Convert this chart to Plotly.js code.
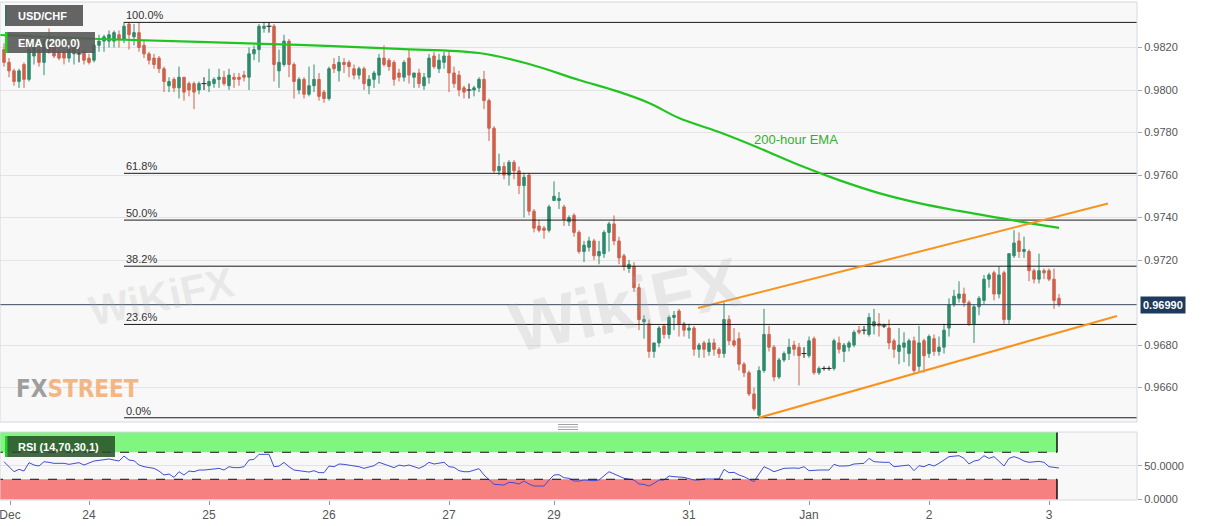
<!DOCTYPE html>
<html><head><meta charset="utf-8">
<script src="https://cdn.plot.ly/plotly-3.0.1.min.js"></script>
<style>html,body{margin:0;padding:0;background:#fff}#chart{width:1207px;height:526px}</style>
</head><body><div id="chart"></div>
<script>
// Hourly USD/CHF candles (index 0 = first candle on the left)
const opens = [
.9819,.9813,.9809,.9804,.9812,.9805,.9816,.9819,.9813,.9824,.9820,.9818,.9818,.9815,.9817,.9817,.9818,.9815,.9814,.9821,
.9823,.9823,.9823,.9826,.9824,.9831,.9825,.9827,.9821,.9817,.9815,.9815,.9810,.9802,.9805,.9801,.9806,.9803,.9803,.9800,
.9803,.9802,.9803,.9805,.9806,.9802,.9806,.9806,.9807,.9806,.9817,.9819,.9829,.9830,.9830,.9809,.9812,.9823,.9812,.9800,
.9805,.9798,.9802,.9805,.9799,.9796,.9812,.9809,.9813,.9813,.9810,.9807,.9810,.9802,.9805,.9807,.9815,.9814,.9813,.9808,
.9806,.9815,.9806,.9808,.9802,.9806,.9816,.9810,.9813,.9816,.9808,.9807,.9801,.9800,.9800,.9801,.9805,.9795,.9782,.9762,
.9764,.9760,.9766,.9762,.9755,.9760,.9743,.9736,.9735,.9734,.9748,.9748,.9745,.9738,.9741,.9733,.9724,.9726,.9729,.9722,
.9723,.9733,.9737,.9729,.9722,.9716,.9717,.9707,.9691,.9690,.9677,.9681,.9689,.9685,.9693,.9696,.9690,.9687,.9688,.9678,
.9681,.9677,.9681,.9678,.9676,.9692,.9682,.9683,.9671,.9667,.9657,.9647,.9668,.9685,.9679,.9665,.9673,.9676,.9680,.9679,
.9676,.9675,.9683,.9667,.9669,.9669,.9669,.9681,.9677,.9679,.9680,.9687,.9687,.9685,.9689,.9690,.9689,.9688,.9682,.9677,
.9679,.9676,.9682,.9670,.9682,.9676,.9683,.9677,.9679,.9688,.9699,.9702,.9704,.9700,.9690,.9698,.9701,.9711,.9714,.9704,
.9714,.9692,.9722,.9729,.9724,.9724,.9715,.9711,.9715,.9715,.9711,.9702];
const highs = [
.9822,.9815,.9810,.9810,.9813,.9820,.9822,.9821,.9824,.9829,.9821,.9820,.9820,.9822,.9823,.9820,.9819,.9817,.9822,.9826,
.9826,.9828,.9828,.9828,.9832,.9832,.9831,.9832,.9823,.9818,.9817,.9816,.9811,.9806,.9806,.9811,.9806,.9804,.9804,.9804,
.9806,.9810,.9806,.9810,.9809,.9810,.9808,.9808,.9809,.9820,.9821,.9831,.9832,.9832,.9831,.9819,.9826,.9824,.9813,.9806,
.9806,.9811,.9812,.9808,.9800,.9811,.9815,.9816,.9815,.9814,.9812,.9811,.9811,.9807,.9809,.9817,.9821,.9815,.9814,.9810,
.9814,.9819,.9808,.9810,.9808,.9817,.9818,.9817,.9818,.9818,.9811,.9809,.9802,.9803,.9802,.9806,.9809,.9796,.9783,.9770,
.9766,.9767,.9767,.9764,.9761,.9761,.9744,.9739,.9736,.9746,.9757,.9752,.9746,.9741,.9742,.9734,.9729,.9731,.9730,.9729,
.9734,.9738,.9741,.9731,.9723,.9720,.9719,.9709,.9694,.9692,.9681,.9689,.9690,.9694,.9696,.9697,.9691,.9690,.9689,.9681,
.9682,.9683,.9683,.9679,.9700,.9694,.9688,.9686,.9672,.9668,.9660,.9670,.9697,.9689,.9680,.9674,.9677,.9683,.9682,.9681,
.9679,.9684,.9684,.9670,.9670,.9670,.9683,.9684,.9681,.9682,.9687,.9689,.9689,.9695,.9697,.9695,.9690,.9692,.9683,.9688,
.9686,.9683,.9684,.9689,.9683,.9685,.9685,.9684,.9690,.9702,.9706,.9710,.9707,.9701,.9699,.9703,.9713,.9714,.9715,.9717,
.9715,.9723,.9734,.9733,.9731,.9725,.9716,.9723,.9716,.9716,.9716,.9704];
const lows = [
.9811,.9806,.9802,.9801,.9801,.9804,.9812,.9811,.9807,.9817,.9815,.9814,.9812,.9813,.9812,.9813,.9812,.9812,.9813,.9818,
.9818,.9820,.9820,.9820,.9822,.9819,.9821,.9818,.9815,.9812,.9810,.9808,.9799,.9799,.9799,.9796,.9795,.9797,.9791,.9798,
.9800,.9799,.9801,.9801,.9802,.9800,.9801,.9802,.9804,.9800,.9814,.9813,.9827,.9827,.9804,.9801,.9811,.9806,.9796,.9798,
.9796,.9797,.9799,.9795,.9794,.9795,.9808,.9804,.9808,.9806,.9805,.9805,.9800,.9798,.9801,.9803,.9811,.9809,.9802,.9804,
.9804,.9803,.9801,.9801,.9800,.9803,.9810,.9808,.9810,.9799,.9801,.9797,.9796,.9796,.9797,.9799,.9791,.9776,.9761,.9760,
.9758,.9755,.9758,.9751,.9740,.9741,.9733,.9733,.9730,.9733,.9748,.9744,.9736,.9736,.9731,.9723,.9719,.9724,.9720,.9718,
.9721,.9724,.9727,.9718,.9715,.9714,.9705,.9687,.9683,.9674,.9674,.9679,.9683,.9683,.9687,.9684,.9684,.9683,.9675,.9674,
.9674,.9675,.9675,.9674,.9674,.9680,.9679,.9668,.9665,.9656,.9649,.96458,.9667,.9677,.9663,.9664,.9672,.9673,.9675,.9661,
.9674,.9674,.9666,.9666,.9668,.9668,.9668,.9676,.9672,.9677,.9679,.9685,.9685,.9684,.9685,.9684,.9688,.9678,.9674,.9671,
.9672,.9670,.9667,.9667,.9667,.9674,.9675,.9675,.9676,.9684,.9698,.9700,.9698,.9689,.9681,.9694,.9699,.9707,.9701,.9702,
.9690,.9690,.9721,.9721,.9721,.9710,.9709,.9709,.9711,.9710,.9697,.9698];
const closes = [
.9813,.9809,.9804,.9809,.9805,.9819,.9820,.9813,.9823,.9818,.9816,.9815,.9815,.9820,.9821,.9817,.9814,.9813,.9821,.9823,
.9825,.9826,.9827,.9824,.9830,.9826,.9827,.9820,.9817,.9814,.9812,.9810,.9804,.9804,.9801,.9806,.9799,.9800,.9799,.9803,
.9803,.9804,.9805,.9806,.9803,.9807,.9805,.9805,.9806,.9817,.9819,.9830,.9830,.9830,.9812,.9813,.9823,.9812,.9804,.9805,
.9798,.9802,.9805,.9797,.9796,.9810,.9810,.9813,.9812,.9811,.9807,.9810,.9803,.9805,.9808,.9815,.9812,.9811,.9805,.9806,
.9813,.9807,.9808,.9803,.9806,.9815,.9811,.9814,.9816,.9808,.9803,.9800,.9799,.9800,.9801,.9805,.9795,.9782,.9762,.9764,
.9760,.9766,.9762,.9755,.9759,.9743,.9735,.9734,.9734,.9745,.9750,.9749,.9739,.9740,.9733,.9724,.9727,.9729,.9722,.9724,
.9733,.9737,.9729,.9721,.9717,.9718,.9707,.9692,.9692,.9677,.9681,.9688,.9685,.9693,.9694,.9690,.9687,.9688,.9678,.9680,
.9678,.9681,.9678,.9676,.9692,.9682,.9680,.9671,.9667,.9657,.9650,.9668,.9685,.9679,.9665,.9673,.9676,.9679,.9678,.9675,
.9676,.9682,.9667,.9669,.9669,.9669,.9682,.9678,.9680,.9681,.9686,.9686,.9687,.9693,.9691,.9689,.9689,.9681,.9678,.9680,
.9681,.9682,.9668,.9681,.9675,.9684,.9677,.9679,.9687,.9699,.9703,.9704,.9700,.9690,.9698,.9702,.9711,.9713,.9704,.9713,
.9692,.9723,.9728,.9724,.9725,.9715,.9711,.9715,.9714,.9711,.9701,.9699];

// x-axis day labels (candle index where each day starts)
const tickIdx = [1.2, 17, 41, 65, 89, 110, 137, 161, 185, 209];
const tickLabels = ['Dec', '24', '25', '26', '27', '29', '31', 'Jan', '2', '3'];

// 200-hour EMA
const emaIdx  = [-1, 19, 39, 59, 79, 95, 105, 115, 123, 129, 135, 143, 151, 159, 167, 175, 183, 191, 199, 205, 211];
const emaVals = [.98259,.98240,.98226,.98212,.98193,.98174,.98122,.98047,.97991,.97939,.97868,.97802,.97727,.97647,.97576,.97515,.97468,.97431,.97398,.97374,.97351];

// RSI (14)
const rsiIdx = [0,1,2,3,4,5,6,7,8,9,10,12,13,15,16,18,20,21,22,23,24,25,26,27,28,30,31,32,33,34,35,36,37,38,39,40,42,43,44,45,46,47,48,49,50,51,53,54,55,56,57,58,59,60,61,62,63,64,65,66,67,68,70,71,72,73,74,75,76,78,79,80,81,82,83,84,85,86,87,88,89,90,91,92,93,95,96,98,100,101,102,103,104,105,106,108,109,110,111,112,113,114,115,116,118,119,121,122,123,124,126,127,128,129,130,131,132,133,134,136,138,139,140,142,143,144,145,146,147,148,149,150,151,152,153,154,155,156,158,159,160,161,163,165,166,167,168,169,170,171,172,173,174,176,177,178,179,181,182,183,184,185,186,187,189,191,192,193,194,195,196,197,198,200,201,202,203,204,205,207,208,209,211];
const rsiVals = [56.0,48.6,41.2,44.7,42.2,54.6,51.1,49.6,56.0,55.1,53.6,53.6,52.1,54.6,51.1,57.0,58.5,60.0,58.5,57.0,64.4,58.5,57.5,51.1,48.6,46.2,42.2,36.3,37.8,32.8,41.2,36.3,42.2,41.2,43.7,43.7,45.2,46.2,43.7,48.6,47.2,47.2,48.6,58.5,59.5,66.9,66.9,48.6,49.5,55.0,48.6,43.7,42.7,42.2,40.7,42.7,39.8,39.8,49.6,48.6,52.6,52.1,50.1,48.6,46.2,48.6,50.1,55.1,52.6,47.2,51.0,49.6,51.1,48.6,46.2,49.6,55.1,52.6,53.6,55.1,48.6,47.7,42.7,41.2,41.2,45.7,36.3,22.5,21.5,25.4,24.9,23.0,27.4,23.0,20.0,20.0,28.9,36.3,36.8,32.3,31.4,27.4,27.4,28.9,27.9,28.9,41.2,37.8,35.3,31.4,28.9,23.0,22.5,20.0,24.0,28.9,28.9,34.8,33.8,32.8,28.9,28.9,30.4,30.4,30.4,44.7,39.8,40.2,36.3,33.8,30.4,26.4,37.8,48.6,45.2,41.2,43.7,46.2,46.7,46.2,48.6,42.7,43.7,43.7,52.1,49.6,49.6,50.1,52.6,53.6,53.6,61.0,56.0,55.1,55.1,48.6,49.6,51.1,42.7,50.1,48.6,52.1,49.6,53.6,63.5,64.9,61.0,52.6,57.0,58.5,64.9,61.0,63.5,49.6,61.0,63.5,61.0,57.0,55.1,56.5,55.1,48.6,46.7];

// Fibonacci retracement levels
const fibLevels = [0.98318, 0.97608, 0.97388, 0.97171, 0.96897, 0.96458];
const fibLabels = ['100.0%', '61.8%', '50.0%', '38.2%', '23.6%', '0.0%'];
const fibStartIdx = 24;

// Rising channel (two trend lines)
const channelUpperIdx = [138.8, 220.8];
const channelUpperVals = [0.96974, 0.97466];
const channelLowerIdx = [151, 222.6];
const channelLowerVals = [0.96458, 0.96937];

const lastPrice = 0.9699;
const priceTicks = [0.966, 0.968, 0.972, 0.974, 0.976, 0.978, 0.980, 0.982];

// ---------- build ----------
const idx = closes.map((_, k) => k);
const norm = [], doji = [];
idx.forEach(k => (opens[k] === closes[k] ? doji : norm).push(k));
const pick = (arr, ks) => ks.map(k => arr[k]);

const UP = '#2f8a6c', DN = '#d0604a';
const traces = [];

fibLevels.forEach(v => traces.push({
  type: 'scatter', mode: 'lines', x: [fibStartIdx, 260], y: [v, v],
  line: {color: '#1a1a1a', width: 1}, hoverinfo: 'skip', xaxis: 'x', yaxis: 'y'
}));

traces.push({
  type: 'candlestick', x: pick(idx, norm), open: pick(opens, norm), high: pick(highs, norm),
  low: pick(lows, norm), close: pick(closes, norm),
  increasing: {line: {color: UP, width: 1}, fillcolor: UP},
  decreasing: {line: {color: DN, width: 1}, fillcolor: DN},
  whiskerwidth: 0, hoverinfo: 'skip', xaxis: 'x', yaxis: 'y'
});
traces.push({
  type: 'ohlc', x: pick(idx, doji), open: pick(opens, doji), high: pick(highs, doji),
  low: pick(lows, doji), close: pick(closes, doji), tickwidth: 0.5,
  increasing: {line: {color: '#222', width: 1}}, decreasing: {line: {color: '#222', width: 1}},
  hoverinfo: 'skip', xaxis: 'x', yaxis: 'y'
});

traces.push({type: 'scatter', mode: 'lines', x: emaIdx, y: emaVals,
  line: {color: '#22c422', width: 2.2, shape: 'spline'}, hoverinfo: 'skip', xaxis: 'x', yaxis: 'y'});
traces.push({type: 'scatter', mode: 'lines', x: channelUpperIdx, y: channelUpperVals,
  line: {color: '#f7941d', width: 2}, hoverinfo: 'skip', xaxis: 'x', yaxis: 'y'});
traces.push({type: 'scatter', mode: 'lines', x: channelLowerIdx, y: channelLowerVals,
  line: {color: '#f7941d', width: 2}, hoverinfo: 'skip', xaxis: 'x', yaxis: 'y'});

traces.push({type: 'scatter', mode: 'lines', x: rsiIdx, y: rsiVals,
  line: {color: '#3f4fd4', width: 1}, hoverinfo: 'skip', xaxis: 'x', yaxis: 'y2'});

// pixel helpers for fixed decorations (plot area: x 0..1137, y 2..500)
const PW = 1137, PT = 2, PB = 500, PH = PB - PT;
const px = v => v / PW;
const py = v => (PB - v) / PH;
const mainBottom = py(422), rsiTop = py(432);
const bandEnd = idx.length - 1.4;

const shapes = [
  // RSI zones
  {type: 'rect', xref: 'x', yref: 'y2', x0: -2, x1: bandEnd, y0: 70, y1: 100, fillcolor: '#80f57f', line: {width: 0}, layer: 'below'},
  {type: 'rect', xref: 'x', yref: 'y2', x0: -2, x1: bandEnd, y0: 0, y1: 30, fillcolor: '#f67f7f', line: {width: 0}, layer: 'below'},
  {type: 'line', xref: 'x', yref: 'y2', x0: -2, x1: bandEnd, y0: 70, y1: 70, line: {color: '#111', width: 1, dash: 'dash'}},
  {type: 'line', xref: 'x', yref: 'y2', x0: -2, x1: bandEnd, y0: 30, y1: 30, line: {color: '#111', width: 1, dash: 'dash'}},
  {type: 'line', xref: 'x', yref: 'y2', x0: bandEnd, x1: bandEnd, y0: 70, y1: 100, line: {color: '#111', width: 1.5}},
  {type: 'line', xref: 'x', yref: 'y2', x0: bandEnd, x1: bandEnd, y0: 0, y1: 30, line: {color: '#111', width: 1.5}},
  // last price line
  {type: 'line', xref: 'paper', yref: 'y', x0: 0, x1: 1, y0: lastPrice, y1: lastPrice, line: {color: '#3a4b5e', width: 1}},
  // panel borders
  {type: 'rect', xref: 'paper', yref: 'paper', x0: 0, x1: 1, y0: mainBottom, y1: 1, line: {color: '#d3d8e2', width: 1}},
  {type: 'rect', xref: 'paper', yref: 'paper', x0: 0, x1: 1, y0: 0, y1: rsiTop, line: {color: '#d3d8e2', width: 1}},
  // panel resize handle
  {type: 'line', xref: 'paper', yref: 'paper', x0: px(558), x1: px(578), y0: py(424.5), y1: py(424.5), line: {color: '#8a8a8a', width: 0.8}},
  {type: 'line', xref: 'paper', yref: 'paper', x0: px(558), x1: px(578), y0: py(427), y1: py(427), line: {color: '#8a8a8a', width: 0.8}},
  {type: 'line', xref: 'paper', yref: 'paper', x0: px(558), x1: px(578), y0: py(429.5), y1: py(429.5), line: {color: '#8a8a8a', width: 0.8}},
  // legend boxes
  {type: 'rect', xref: 'paper', yref: 'paper', x0: px(5), x1: px(83), y0: py(26), y1: py(5), fillcolor: 'rgba(88,88,88,0.93)', line: {width: 0}},
  {type: 'rect', xref: 'paper', yref: 'paper', x0: px(5), x1: px(7), y0: py(26), y1: py(5), fillcolor: '#3e6e68', line: {width: 0}},
  {type: 'rect', xref: 'paper', yref: 'paper', x0: px(5), x1: px(95), y0: py(53), y1: py(32), fillcolor: 'rgba(88,88,88,0.9)', line: {width: 0}},
  {type: 'rect', xref: 'paper', yref: 'paper', x0: px(5), x1: px(7.5), y0: py(53), y1: py(32), fillcolor: '#1fd21f', line: {width: 0}},
  {type: 'rect', xref: 'paper', yref: 'paper', x0: px(5), x1: px(115), y0: py(457), y1: py(436), fillcolor: 'rgba(38,78,38,0.85)', line: {width: 0}},
  {type: 'rect', xref: 'paper', yref: 'paper', x0: px(5), x1: px(7.5), y0: py(457), y1: py(436), fillcolor: '#1fd21f', line: {width: 0}}
];

const annotations = [];
// watermarks
annotations.push({xref: 'paper', yref: 'paper', x: px(82), y: py(296), text: '<b>WiKiFX</b>', showarrow: false,
  font: {size: 42, color: 'rgba(175,175,175,0.22)', family: 'Arial, Liberation Sans'}, textangle: -12});
annotations.push({xref: 'paper', yref: 'paper', x: px(625), y: py(305), text: '<b>WikiFX</b>', showarrow: false,
  font: {size: 70, color: 'rgba(175,175,175,0.22)', family: 'Arial, Liberation Sans'}, textangle: -12});
// legends
annotations.push({xref: 'paper', yref: 'paper', x: px(16), y: py(15.5), xanchor: 'left', yanchor: 'middle', showarrow: false,
  text: '<b>USD/CHF</b>', font: {size: 11, color: '#fff'}});
annotations.push({xref: 'paper', yref: 'paper', x: px(16), y: py(42.5), xanchor: 'left', yanchor: 'middle', showarrow: false,
  text: '<b>EMA (200,0)</b>', font: {size: 11, color: '#fff'}});
annotations.push({xref: 'paper', yref: 'paper', x: px(16), y: py(446.5), xanchor: 'left', yanchor: 'middle', showarrow: false,
  text: '<b>RSI (14,70,30,1)</b>', font: {size: 11, color: '#fff'}});
// fib labels
fibLevels.forEach((v, k) => annotations.push({xref: 'x', yref: 'y', x: fibStartIdx, y: v, xanchor: 'left', yanchor: 'bottom',
  showarrow: false, text: fibLabels[k], font: {size: 11, color: '#333'}, yshift: -1}));
// EMA label
annotations.push({xref: 'x', yref: 'y', x: 149.6, y: 0.97769, xanchor: 'left', yanchor: 'middle', showarrow: false,
  text: '200-hour EMA', font: {size: 13, color: '#2fb12f'}});
// last price tag
annotations.push({xref: 'paper', yref: 'y', x: 1, y: lastPrice, xanchor: 'left', yanchor: 'middle', xshift: 3, showarrow: false,
  text: '<b>' + lastPrice.toFixed(5) + '</b>', font: {size: 11, color: '#fff'}, bgcolor: '#1e3a5c', borderpad: 2});
// FXStreet logo
annotations.push({xref: 'paper', yref: 'paper', x: px(14), y: py(389), xanchor: 'left', yanchor: 'middle', showarrow: false,
  text: '<b><span style="color:#8f8f8f">FX</span><span style="color:#f3ab72">STREET</span></b>',
  font: {size: 24, family: 'DejaVu Sans Condensed, Liberation Sans Narrow, Arial'}, opacity: 0.85});

const layout = {
  width: 1207, height: 526,
  margin: {l: 0, r: 70, t: PT, b: 526 - PB, pad: 0},
  paper_bgcolor: '#ffffff', plot_bgcolor: '#f8f8f8',
  showlegend: false,
  font: {family: 'Arial, Liberation Sans, sans-serif', size: 11, color: '#555'},
  xaxis: {range: [-0.8, 226.6], tickmode: 'array', tickvals: tickIdx, ticktext: tickLabels,
    ticks: 'outside', ticklen: 4, tickcolor: '#999', showgrid: false, zeroline: false, showline: false,
    anchor: 'y2', rangeslider: {visible: false}, tickfont: {size: 12, color: '#555'}, fixedrange: true,
    ticklabeloverflow: 'allow'},
  yaxis: {domain: [mainBottom, 1], range: [0.96438, 0.98414], side: 'right', anchor: 'x',
    tickmode: 'array', tickvals: priceTicks, tickformat: '.4f', ticks: 'outside', ticklen: 4, tickcolor: '#aaa',
    gridcolor: '#e4e4e4', zeroline: false, showline: false, tickfont: {size: 11, color: '#555'}},
  yaxis2: {domain: [0, rsiTop], range: [-0.7, 100], side: 'right', anchor: 'x',
    tickmode: 'array', tickvals: [0, 50], ticktext: ['0.0000', '50.0000'], ticks: 'outside', ticklen: 4, tickcolor: '#aaa',
    gridcolor: '#e2e2e2', zeroline: false, showline: false, tickfont: {size: 11, color: '#555'}},
  shapes: shapes,
  annotations: annotations
};

Plotly.newPlot('chart', traces, layout, {staticPlot: true, displayModeBar: false});
</script>
</body></html>
